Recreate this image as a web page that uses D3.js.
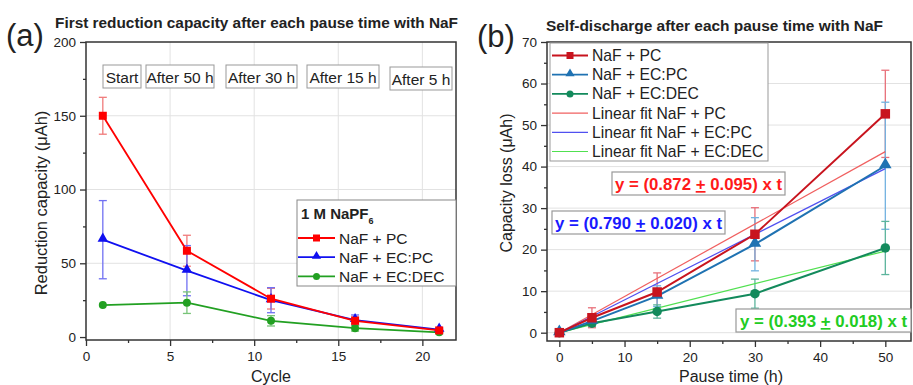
<!DOCTYPE html>
<html>
<head>
<meta charset="utf-8">
<script src="https://cdn.jsdelivr.net/npm/d3@7"></script>
<style>
  body { margin: 0; background: #fff; }
  svg text { font-family: "Liberation Sans", Arial, sans-serif; fill: #222; }
</style>
</head>
<body>
<div class="box"></div>
<script>
// ---- données panneau (a)
const cycles = [1, 6, 11, 16, 21];
const pcA = [150, 58.5, 26, 11, 4.5];
const pcErrA = [12.5, 10.5, 7, 3, 1];
const ecpcA = [66, 45, 25, 11.5, 5];
const ecpcErrA = [26.5, 17, 8.5, 3.5, 1.2];
const ecdecA = [21.7, 23.3, 11, 6, 3.2];
const ecdecErrA = [0, 7.3, 3.5, 2, 0.8];
const pauseLabels = ['Start', 'After 50 h', 'After 30 h', 'After 15 h', 'After 5 h'];
const seriesNames = ['NaF + PC', 'NaF + EC:PC', 'NaF + EC:DEC'];

// ---- données panneau (b)
const pause = [0, 5, 15, 30, 50];
const pcB = [0, 3.6, 9.8, 23.7, 52.7];
const pcErrB = [0, 2.4, 4.6, 6.4, 10.5];
const ecpcB = [0, 2.8, 8.8, 21.3, 40.2];
const ecpcErrB = [0, 1.2, 2.5, 6.4, 15.3];
const ecdecB = [0, 2.3, 5.1, 9.4, 20.4];
const ecdecErrB = [0, 0.8, 1.6, 3.5, 6.4];
const slopes = [0.872, 0.790, 0.393];
const slopeErr = [0.095, 0.020, 0.018];

const W = 913, H = 385;
const svg = d3.select('.box').append('svg').attr('width', W).attr('height', H);

const frameCol = '#333';

function drawMarker(g, shape, x, y, size, col) {
  if (shape === 'square') {
    g.append('rect').attr('x', x - size / 2).attr('y', y - size / 2)
     .attr('width', size).attr('height', size).attr('fill', col);
  } else if (shape === 'triangle') {
    const s = d3.symbol().type(d3.symbolTriangle).size(size * size * 0.75);
    g.append('path').attr('d', s()).attr('transform', `translate(${x},${y - 1})`).attr('fill', col);
  } else {
    g.append('circle').attr('cx', x).attr('cy', y).attr('r', size / 2).attr('fill', col);
  }
}

function axes(g, x, y, xTicks, xMinor, yTicks, yMinor, dims) {
  g.append('g').attr('transform', `translate(0,${dims.bottom})`)
    .call(d3.axisBottom(x).tickValues(xTicks).tickSize(6).tickPadding(5));
  g.append('g').attr('transform', `translate(0,${dims.bottom})`)
    .call(d3.axisBottom(x).tickValues(xMinor).tickSize(3).tickFormat(''));
  g.append('g').attr('transform', `translate(${dims.left},0)`)
    .call(d3.axisLeft(y).tickValues(yTicks).tickSize(6).tickPadding(4));
  g.append('g').attr('transform', `translate(${dims.left},0)`)
    .call(d3.axisLeft(y).tickValues(yMinor).tickSize(3).tickFormat(''));
  g.selectAll('.domain').remove();
  g.selectAll('.tick line').attr('stroke', frameCol).attr('stroke-width', 1.3);
  g.selectAll('.tick text').attr('font-size', 13.5).attr('fill', '#222')
   .attr('font-family', '"Liberation Sans", Arial, sans-serif');
}

// =================== panneau (a)
const dA = {left: 86, right: 456, top: 42, bottom: 340};
const xA = d3.scaleLinear().domain([0, 22]).range([dA.left, dA.right]);
const yA = d3.scaleLinear().domain([-2, 200]).range([dA.bottom, dA.top]);
const gA = svg.append('g');

// grille
gA.selectAll('.vgrid').data([5, 10, 15, 20]).enter().append('line')
  .attr('x1', d => xA(d)).attr('x2', d => xA(d)).attr('y1', dA.top).attr('y2', dA.bottom)
  .attr('stroke', '#e2e2e2').attr('stroke-width', 1);
gA.selectAll('.hgrid').data([50, 100, 150]).enter().append('line')
  .attr('x1', dA.left).attr('x2', dA.right).attr('y1', d => yA(d)).attr('y2', d => yA(d))
  .attr('stroke', '#e2e2e2').attr('stroke-width', 1);

// étiquettes des pauses
const pausePos = [[103, 65, 38], [146, 65, 68], [226, 65, 71], [307, 65, 72], [390, 67, 62]];
pauseLabels.forEach((t, i) => {
  const p = pausePos[i];
  gA.append('rect').attr('x', p[0]).attr('y', p[1]).attr('width', p[2]).attr('height', 23)
    .attr('fill', '#fff').attr('stroke', '#999').attr('stroke-width', 1);
  gA.append('text').attr('x', p[0] + p[2] / 2).attr('y', p[1] + 17.5).attr('text-anchor', 'middle')
    .attr('font-size', 15.5).text(t);
});

const seriesA = [
  {v: pcA, e: pcErrA, col: '#ff0000', err: '#f07a7a', shape: 'square'},
  {v: ecpcA, e: ecpcErrA, col: '#1010f0', err: '#7070f2', shape: 'triangle'},
  {v: ecdecA, e: ecdecErrA, col: '#22a022', err: '#78c478', shape: 'circle'}
];

const lineA = d3.line().x(d => xA(d[0])).y(d => yA(d[1]));
// barres d'erreur
seriesA.forEach(s => {
  cycles.forEach((c, i) => {
    if (!s.e[i]) return;
    const cx = xA(c), y1 = yA(s.v[i] - s.e[i]), y2 = yA(s.v[i] + s.e[i]);
    gA.append('line').attr('x1', cx).attr('x2', cx).attr('y1', y1).attr('y2', y2)
      .attr('stroke', s.err).attr('stroke-width', 1.3);
    [y1, y2].forEach(yy => gA.append('line').attr('x1', cx - 4).attr('x2', cx + 4)
      .attr('y1', yy).attr('y2', yy).attr('stroke', s.err).attr('stroke-width', 1.3));
  });
});
[2, 1, 0].forEach(k => {
  const s = seriesA[k];
  gA.append('path').datum(cycles.map((c, i) => [c, s.v[i]])).attr('d', lineA)
    .attr('fill', 'none').attr('stroke', s.col).attr('stroke-width', 1.8);
  cycles.forEach((c, i) => drawMarker(gA, s.shape, xA(c), yA(s.v[i]), 8, s.col));
});

axes(gA, xA, yA, [0, 5, 10, 15, 20], [2.5, 7.5, 12.5, 17.5], [0, 50, 100, 150, 200], [25, 75, 125, 175], dA);
gA.append('rect').attr('x', dA.left).attr('y', dA.top).attr('width', dA.right - dA.left)
  .attr('height', dA.bottom - dA.top).attr('fill', 'none').attr('stroke', frameCol).attr('stroke-width', 1.5);

// légende (a)
const legA = gA.append('g');
legA.append('rect').attr('x', 297).attr('y', 200).attr('width', 159).attr('height', 86)
  .attr('fill', '#fff').attr('stroke', '#888').attr('stroke-width', 1);
const ttl = legA.append('text').attr('x', 301).attr('y', 219).attr('font-size', 15).attr('font-weight', 'bold');
ttl.append('tspan').text('1 M NaPF');
ttl.append('tspan').attr('font-size', 9).attr('dy', 5).text('6');
seriesA.forEach((s, i) => {
  const yy = 238 + i * 19.2;
  legA.append('line').attr('x1', 298).attr('x2', 335).attr('y1', yy).attr('y2', yy)
    .attr('stroke', s.col).attr('stroke-width', 1.8);
  drawMarker(legA, s.shape, 316.5, yy, 7, s.col);
  legA.append('text').attr('x', 339).attr('y', yy + 5.5).attr('font-size', 15.5).text(seriesNames[i]);
});

gA.append('text').attr('transform', `translate(47,203) rotate(-90)`)
  .attr('text-anchor', 'middle').attr('font-size', 16.5).text('Reduction capacity (μAh)');
gA.append('text').attr('x', xA(11)).attr('y', 382).attr('text-anchor', 'middle')
  .attr('font-size', 16).text('Cycle');
gA.append('text').attr('x', 6).attr('y', 46).attr('font-size', 31).text('(a)');
gA.append('text').attr('x', 55).attr('y', 28).attr('font-size', 14.5).attr('font-weight', 'bold')
  .attr('textLength', 403).attr('lengthAdjust', 'spacingAndGlyphs')
  .text('First reduction capacity after each pause time with NaF');

// =================== panneau (b)
const dB = {left: 547, right: 911, top: 42, bottom: 341};
const xB = d3.scaleLinear().domain([-2, 54]).range([546.3, 911.4]);
const yB = d3.scaleLinear().domain([-2, 70]).range([dB.bottom, dB.top]);
const gB = svg.append('g');

gB.selectAll('.hgrid').data([0, 10, 20, 30, 40, 50, 60]).enter().append('line')
  .attr('x1', dB.left).attr('x2', dB.right).attr('y1', d => yB(d)).attr('y2', d => yB(d))
  .attr('stroke', '#e2e2e2').attr('stroke-width', 1);

const seriesB = [
  {v: pcB, e: pcErrB, col: '#c8141e', err: '#e8707a', fit: '#f06060', shape: 'square'},
  {v: ecpcB, e: ecpcErrB, col: '#1f72b2', err: '#72b2e0', fit: '#5050f0', shape: 'triangle'},
  {v: ecdecB, e: ecdecErrB, col: '#138a5c', err: '#5cb49c', fit: '#50e050', shape: 'circle'}
];
const lineB = d3.line().x(d => xB(d[0])).y(d => yB(d[1]));

seriesB.forEach(s => {
  pause.forEach((p, i) => {
    if (!s.e[i]) return;
    const cx = xB(p), y1 = yB(s.v[i] - s.e[i]), y2 = yB(s.v[i] + s.e[i]);
    gB.append('line').attr('x1', cx).attr('x2', cx).attr('y1', y1).attr('y2', y2)
      .attr('stroke', s.err).attr('stroke-width', 1.3);
    [y1, y2].forEach(yy => gB.append('line').attr('x1', cx - 4).attr('x2', cx + 4)
      .attr('y1', yy).attr('y2', yy).attr('stroke', s.err).attr('stroke-width', 1.3));
  });
});
// droites d'ajustement
seriesB.forEach((s, k) => {
  gB.append('path').datum([[0, 0], [50, 50 * slopes[k]]]).attr('d', lineB)
    .attr('fill', 'none').attr('stroke', s.fit).attr('stroke-width', 1.2);
});
[2, 1, 0].forEach(k => {
  const s = seriesB[k];
  gB.append('path').datum(pause.map((p, i) => [p, s.v[i]])).attr('d', lineB)
    .attr('fill', 'none').attr('stroke', s.col).attr('stroke-width', 2);
  pause.forEach((p, i) => drawMarker(gB, s.shape, xB(p), yB(s.v[i]), 9.5, s.col));
});

axes(gB, xB, yB, [0, 10, 20, 30, 40, 50], [5, 15, 25, 35, 45], [0, 10, 20, 30, 40, 50, 60, 70], [5, 15, 25, 35, 45, 55, 65], dB);
gB.append('rect').attr('x', dB.left).attr('y', dB.top).attr('width', dB.right - dB.left)
  .attr('height', dB.bottom - dB.top).attr('fill', 'none').attr('stroke', frameCol).attr('stroke-width', 1.5);

// légende (b)
const legB = gB.append('g');
legB.append('rect').attr('x', 550).attr('y', 43).attr('width', 218).attr('height', 118)
  .attr('fill', '#fff').attr('stroke', '#999').attr('stroke-width', 1);
const legNamesB = seriesNames.concat(seriesNames.map(n => 'Linear fit ' + n));
legNamesB.forEach((n, i) => {
  const yy = 55.5 + i * 19.2;
  const s = seriesB[i % 3];
  const isFit = i >= 3;
  legB.append('line').attr('x1', 552).attr('x2', 588).attr('y1', yy).attr('y2', yy)
    .attr('stroke', isFit ? s.fit : s.col).attr('stroke-width', isFit ? 1.2 : 1.8);
  if (!isFit) drawMarker(legB, s.shape, 570, yy, 7, s.col);
  legB.append('text').attr('x', 592).attr('y', yy + 5.5).attr('font-size', 15.7).text(n);
});

// équations
const eqBoxes = [[612, 172, 173], [552, 211, 173], [736, 309, 175]];
const eqCols = ['#ff1a1a', '#1a1aff', '#22cc22'];
slopes.forEach((m, k) => {
  const b = eqBoxes[k];
  gB.append('rect').attr('x', b[0]).attr('y', b[1]).attr('width', b[2]).attr('height', 23)
    .attr('fill', '#fff').attr('stroke', '#999').attr('stroke-width', 1.2);
  const t = gB.append('text').attr('x', b[0] + b[2] / 2).attr('y', b[1] + 18)
    .attr('text-anchor', 'middle').attr('font-size', 16.8).attr('font-weight', 'bold')
    .style('fill', eqCols[k]);
  t.append('tspan').text(`y = (${m.toFixed(3)} `);
  t.append('tspan').style('text-decoration', 'underline').text('+');
  t.append('tspan').text(` ${slopeErr[k].toFixed(3)}) x t`);
});

gB.append('text').attr('transform', `translate(512,183) rotate(-90)`)
  .attr('text-anchor', 'middle').attr('font-size', 16).text('Capacity loss (μAh)');
gB.append('text').attr('x', 731).attr('y', 382).attr('text-anchor', 'middle')
  .attr('font-size', 16).text('Pause time (h)');
gB.append('text').attr('x', 477).attr('y', 47).attr('font-size', 31).text('(b)');
gB.append('text').attr('x', 546).attr('y', 31).attr('font-size', 14.5).attr('font-weight', 'bold')
  .attr('textLength', 337).attr('lengthAdjust', 'spacingAndGlyphs')
  .text('Self-discharge after each pause time with NaF');
</script>
</body>
</html>
